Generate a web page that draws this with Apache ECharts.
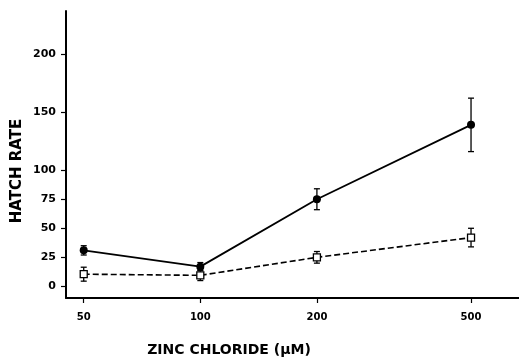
<!DOCTYPE html>
<html>
<head>
<meta charset="utf-8">
<script src="https://cdn.jsdelivr.net/npm/echarts@6/dist/echarts.min.js"></script>
<style>
  html, body { margin: 0; padding: 0; background: #fff; }
  #chart { width: 519px; height: 360px; }
</style>
</head>
<body>
<div id="chart"></div>
<script>
// zinc chloride concentration (uM), x axis is log
var concentrations = [50, 100, 200, 500];
var xTicks = [50, 100, 200, 500];
var yTicks = [0, 25, 50, 75, 100, 150, 200];

// filled circles, solid line
var filledMean = [31, 17, 75, 139];
var filledErr = [4, 3.5, 9, 23];
// open squares, dashed line
var openMean = [10.5, 9.5, 25, 42];
var openErr = [6, 4.5, 5, 8];

var chart = echarts.init(document.getElementById('chart'));

function pairs(mean) {
  return concentrations.map(function (c, i) { return [c, mean[i]]; });
}
function bars(mean, err) {
  return concentrations.map(function (c, i) { return [c, mean[i] - err[i], mean[i] + err[i]]; });
}

function renderErr(params, api) {
  var x = api.value(0);
  var lo = api.coord([x, api.value(1)]);
  var hi = api.coord([x, api.value(2)]);
  var w = 3;
  var st = { stroke: '#000', lineWidth: 1.3 };
  return {
    type: 'group',
    children: [
      { type: 'line', shape: { x1: lo[0], y1: lo[1], x2: hi[0], y2: hi[1] }, style: st },
      { type: 'line', shape: { x1: lo[0] - w, y1: lo[1], x2: lo[0] + w, y2: lo[1] }, style: st },
      { type: 'line', shape: { x1: hi[0] - w, y1: hi[1], x2: hi[0] + w, y2: hi[1] }, style: st }
    ]
  };
}

var font = 'DejaVu Sans';

var option = {
  backgroundColor: '#fff',
  animation: false,
  grid: { left: 66, right: 0, top: 11, bottom: 62 },
  xAxis: {
    type: 'log',
    logBase: 10,
    min: 45,
    max: 665,
    axisLine: { onZero: false, lineStyle: { color: '#000', width: 2 } },
    axisTick: { length: 5, lineStyle: { color: '#000', width: 1.2 }, customValues: xTicks },
    axisLabel: {
      customValues: xTicks, margin: 14, color: '#000',
      fontFamily: font, fontWeight: 'bold', fontSize: 10
    },
    splitLine: { show: false },
    minorTick: { show: false }
  },
  yAxis: {
    type: 'value',
    min: -10,
    max: 237,
    axisLine: { show: true, onZero: false, lineStyle: { color: '#000', width: 2 } },
    axisTick: { show: true, length: 5, lineStyle: { color: '#000', width: 1.2 }, customValues: yTicks },
    axisLabel: {
      customValues: yTicks, margin: 10, color: '#000',
      fontFamily: font, fontWeight: 'bold', fontSize: 11
    },
    splitLine: { show: false }
  },
  graphic: [
    {
      type: 'text', x: 229, y: 350,
      style: {
        text: 'ZINC CHLORIDE (\u03bcM)', fill: '#000', font: 'bold 14px "DejaVu Sans"',
        textAlign: 'center', textVerticalAlign: 'middle'
      }
    },
    {
      type: 'text', x: 17, y: 171, rotation: Math.PI / 2,
      style: {
        text: 'HATCH RATE', fill: '#000', font: 'bold 15px "DejaVu Sans"',
        textAlign: 'center', textVerticalAlign: 'middle'
      }
    }
  ],
  series: [
    {
      type: 'custom',
      renderItem: renderErr,
      encode: { x: 0, y: [1, 2] },
      data: bars(filledMean, filledErr),
      z: 1
    },
    {
      type: 'custom',
      renderItem: renderErr,
      encode: { x: 0, y: [1, 2] },
      data: bars(openMean, openErr),
      z: 1
    },
    {
      type: 'line',
      data: pairs(filledMean),
      symbol: 'circle',
      symbolSize: 8,
      itemStyle: { color: '#000' },
      lineStyle: { color: '#000', width: 1.8 },
      z: 3
    },
    {
      type: 'line',
      data: pairs(openMean),
      symbol: 'rect',
      symbolSize: 7,
      itemStyle: { color: '#fff', borderColor: '#000', borderWidth: 1.3 },
      lineStyle: { color: '#000', width: 1.6, type: [6, 3] },
      z: 3
    }
  ]
};

chart.setOption(option);
</script>
</body>
</html>
